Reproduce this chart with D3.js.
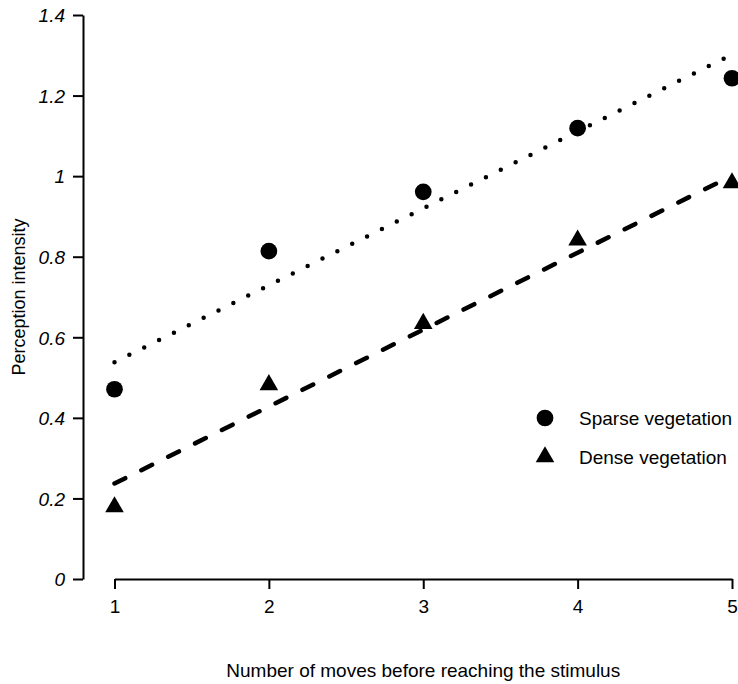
<!DOCTYPE html>
<html>
<head>
<meta charset="utf-8">
<script src="https://cdn.jsdelivr.net/npm/d3@7"></script>
<style>
  body { margin: 0; background: #fff; }
  svg { font-family: "Liberation Sans", Arial, sans-serif; }
</style>
</head>
<body>
<div id="chart"></div>
<script>
// values
const moves = [1, 2, 3, 4, 5];
const sparse = [0.471, 0.814, 0.961, 1.119, 1.243];
const dense = [0.179, 0.482, 0.634, 0.841, 0.983];
// fitted lines, end points at x = 1 and x = 5
const sparseFit = [0.538, 1.302];
const denseFit = [0.237, 1.001];
const yTicks = [0, 0.2, 0.4, 0.6, 0.8, 1, 1.2, 1.4];
const legendLabels = ["Sparse vegetation", "Dense vegetation"];

const width = 738, height = 684;
const fs = 19;

const svg = d3.select("#chart").append("svg")
    .attr("width", width)
    .attr("height", height);

const x = d3.scaleLinear().domain([1, 5]).range([114.5, 732]);
const y = d3.scaleLinear().domain([0, 1.4]).range([579, 15]);
const axisX = 83;

// y axis
const yAxis = svg.append("g")
    .attr("transform", `translate(${axisX},0)`)
    .call(d3.axisLeft(y).tickValues(yTicks).tickSize(10).tickSizeOuter(0)
        .tickFormat(d => d3.format("~g")(d)));
yAxis.select(".domain").attr("stroke-width", 2);
yAxis.selectAll(".tick line").attr("stroke-width", 2);
yAxis.selectAll(".tick text")
    .attr("font-size", fs)
    .attr("font-style", "italic")
    .attr("x", -18)
    .attr("dy", "0.36em")
    .attr("font-family", "Liberation Sans, Arial, sans-serif");

// x axis
const xAxis = svg.append("g")
    .attr("transform", `translate(0,${y(0)})`)
    .call(d3.axisBottom(x).tickValues(moves).tickSize(10).tickSizeOuter(0)
        .tickFormat(d3.format("d")));
xAxis.select(".domain").attr("stroke-width", 2);
xAxis.selectAll(".tick line").attr("stroke-width", 2);
xAxis.selectAll(".tick text")
    .attr("font-size", fs)
    .attr("y", 21)
    .attr("font-family", "Liberation Sans, Arial, sans-serif");

// axis titles
svg.append("text")
    .attr("x", (x(1) + x(5)) / 2)
    .attr("y", 677)
    .attr("text-anchor", "middle")
    .attr("font-size", fs)
    .text("Number of moves before reaching the stimulus");

svg.append("text")
    .attr("transform", `translate(25,${(y(0) + y(1.4)) / 2}) rotate(-90)`)
    .attr("text-anchor", "middle")
    .attr("font-size", 18)
    .text("Perception intensity");

// fitted lines
const line = d3.line().x(d => x(d[0])).y(d => y(d[1]));

svg.append("path")
    .datum([[1, sparseFit[0]], [5, sparseFit[1]]])
    .attr("d", line)
    .attr("fill", "none")
    .attr("stroke", "#000")
    .attr("stroke-width", 4.5)
    .attr("stroke-linecap", "round")
    .attr("stroke-dasharray", "0 16.6");

svg.append("path")
    .datum([[1, denseFit[0]], [5, denseFit[1]]])
    .attr("d", line)
    .attr("fill", "none")
    .attr("stroke", "#000")
    .attr("stroke-width", 4.5)
    .attr("stroke-linecap", "round")
    .attr("stroke-dasharray", "12 18");

// points
const circle = d3.symbol().type(d3.symbolCircle).size(220);
const tri = d3.symbol().type(d3.symbolTriangle).size(150);

svg.selectAll(".sparse")
    .data(moves.map((m, i) => [m, sparse[i]]))
    .enter().append("path")
    .attr("class", "sparse")
    .attr("d", circle)
    .attr("transform", d => `translate(${x(d[0])},${y(d[1])})`)
    .attr("fill", "#000");

svg.selectAll(".dense")
    .data(moves.map((m, i) => [m, dense[i]]))
    .enter().append("path")
    .attr("class", "dense")
    .attr("d", tri)
    .attr("transform", d => `translate(${x(d[0])},${y(d[1])})`)
    .attr("fill", "#000");

// legend
const legend = svg.append("g").attr("transform", "translate(545,418)");
legendLabels.forEach((label, i) => {
    const g = legend.append("g").attr("transform", `translate(0,${i * 39})`);
    g.append("path")
        .attr("d", i === 0 ? circle : tri)
        .attr("fill", "#000");
    g.append("text")
        .attr("x", 34)
        .attr("dy", "0.36em")
        .attr("font-size", fs)
        .text(label);
});
</script>
</body>
</html>
